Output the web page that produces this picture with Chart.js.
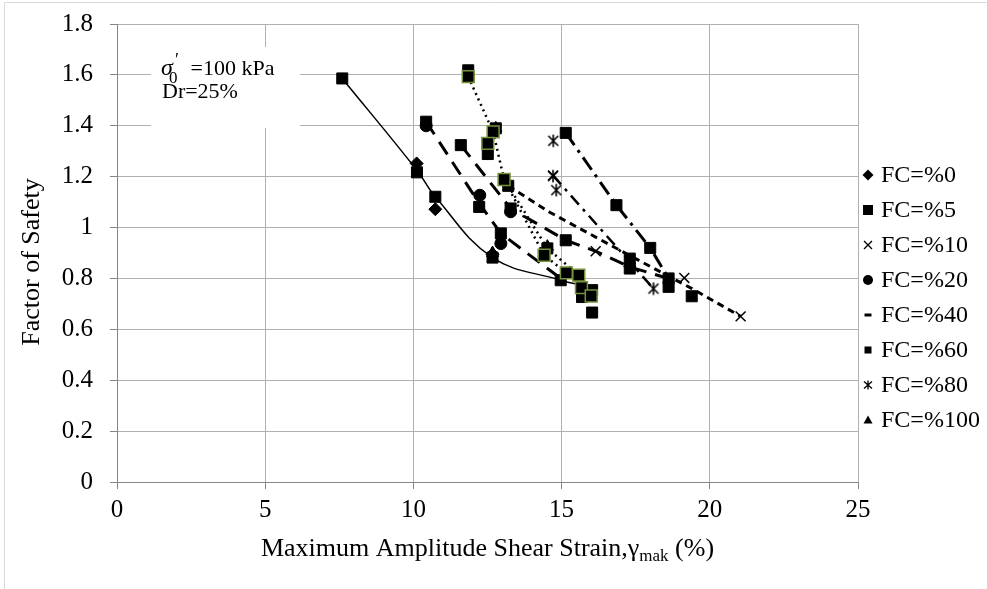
<!DOCTYPE html>
<html><head><meta charset="utf-8">
<script src="https://cdn.jsdelivr.net/npm/chart.js@4.4.0/dist/chart.umd.min.js"></script>
<style>html,body{margin:0;padding:0;background:#fff}</style>
</head><body>
<canvas id="c" width="987" height="589"></canvas>
<script>
// ─── DATA ────────────────────────────────────────────────────────────────────
const X_TICKS=[0,5,10,15,20,25];
const Y_TICKS=[0,0.2,0.4,0.6,0.8,1,1.2,1.4,1.6,1.8];
const Y_TICK_LABELS=['0','0.2','0.4','0.6','0.8','1','1.2','1.4','1.6','1.8'];
const LEGEND_LABELS=['FC=%0','FC=%5','FC=%10','FC=%20','FC=%40','FC=%60','FC=%80','FC=%100'];

// marker series (max shear strain %, factor of safety)
const FC0_X=[10.11,10.74,12.67];               const FC0_Y=[1.252,1.072,0.895];
const FC5_X=[7.6,10.12,10.74,12.67,14.97,10.43,11.6,12.22,13.28,12.95,15.14,15.14,16.85,17.99,17.3,17.3,18.61,18.61,19.39,15.69,16.03,16.03,12.51,13.2,11.85,12.78,14.52];
const FC5_Y=[1.586,1.217,1.121,0.882,0.793,1.416,1.324,1.081,1.075,0.977,1.372,0.95,1.088,0.92,0.878,0.839,0.80,0.767,0.73,0.727,0.754,0.666,1.289,1.164,1.618,1.39,0.918];
const FC10_X=[14.71,16.15,19.14,21.04];         const FC10_Y=[1.205,0.907,0.802,0.651];
const FC20_X=[10.43,12.24,12.95,13.28];         const FC20_Y=[1.40,1.127,0.937,1.062];
const FC40_X=[11.6,13.28,15.14,17.3];           const FC40_Y=[1.324,1.075,0.95,0.86];
const FC60_X=[11.85,12.69,12.51,13.06,14.41,15.16,15.58,15.67,16.0];
const FC60_Y=[1.593,1.376,1.331,1.189,0.891,0.822,0.813,0.764,0.731];
const FC80_X=[14.72,14.71,14.82,18.1];          const FC80_Y=[1.341,1.202,1.147,0.760];
const FC100_X=[12.67,12.78,14.52,17.3];         const FC100_Y=[0.9,1.39,0.925,0.86];

// connecting lines
const LINE_SOLID_X=[7.6,10.12,10.74,12.67,14.97,15.55];  const LINE_SOLID_Y=[1.586,1.225,1.121,0.882,0.793,0.776];
const LINE_LD1_X=[10.43,12.22,12.95,14.97];   const LINE_LD1_Y=[1.416,1.095,0.977,0.80];
const LINE_LD2_X=[11.6,13.28,15.14,16.15,17.3,18.61]; const LINE_LD2_Y=[1.324,1.075,0.95,0.907,0.845,0.80];
const LINE_SD_X=[13.2,14.6,17.3,19.4,21.04];  const LINE_SD_Y=[1.164,1.06,0.89,0.76,0.651];
const LINE_DOT1_X=[11.85,12.69,13.06,14.41,15.16]; const LINE_DOT1_Y=[1.593,1.376,1.189,0.891,0.822];
const LINE_DOT2_X=[13.2,14.52,15.58];         const LINE_DOT2_Y=[1.164,0.918,0.813];
const LINE_DD1_X=[15.14,16.85,17.99,18.61];   const LINE_DD1_Y=[1.372,1.088,0.92,0.80];
const LINE_DD2_X=[14.71,18.1];                const LINE_DD2_Y=[1.205,0.76];

// ─── MARKERS ─────────────────────────────────────────────────────────────────
const FONT='"Liberation Serif","Times New Roman",serif';
function markCanvas(kind,sz,lw){
  const c=document.createElement('canvas'); c.width=c.height=sz;
  const g=c.getContext('2d'); g.strokeStyle='#000'; g.fillStyle='#000'; g.lineWidth=lw;
  const h=sz/2, r=h-lw/2;
  if(kind==='star'){
    g.beginPath();
    g.moveTo(h,h-r); g.lineTo(h,h+r);
    g.moveTo(h-r*.8,h-r*.8); g.lineTo(h+r*.8,h+r*.8);
    g.moveTo(h+r*.8,h-r*.8); g.lineTo(h-r*.8,h+r*.8);
    g.stroke();
  } else if(kind==='dash'){
    g.fillRect(1,h-1.5,sz-2,3);
  }
  return c;
}
const STAR=markCanvas('star',14,1.6), DASH=markCanvas('dash',11,0);

const mk=(xs,ys)=>xs.map((x,i)=>({x,y:ys[i]}));
function markers(label,xs,ys,style,r,order,extra){
  return Object.assign({label,data:mk(xs,ys),showLine:false,pointStyle:style,pointRadius:r,pointHoverRadius:r,
    pointBackgroundColor:'#000',pointBorderColor:'#000',pointBorderWidth:1,order},extra||{});
}
function trace(xs,ys,dash,w,tension){
  return {label:'',data:mk(xs,ys),showLine:true,pointRadius:0,borderColor:'#000',borderWidth:w,
    borderDash:dash,tension:tension||0,order:10};
}

const datasets=[
  markers(LEGEND_LABELS[5],FC60_X,FC60_Y,'rect',8.4,1,{pointBorderColor:'#76923c',pointBorderWidth:1.5}),
  markers(LEGEND_LABELS[2],FC10_X,FC10_Y,'crossRot',7,2,{pointBorderWidth:1.5}),
  markers(LEGEND_LABELS[6],FC80_X,FC80_Y,STAR,7,2),
  markers(LEGEND_LABELS[1],FC5_X,FC5_Y,'rect',7.8,3),
  markers(LEGEND_LABELS[0],FC0_X,FC0_Y,'rectRot',6.5,4),
  markers(LEGEND_LABELS[3],FC20_X,FC20_Y,'circle',6,4),
  markers(LEGEND_LABELS[7],FC100_X,FC100_Y,'triangle',7,5),
  markers(LEGEND_LABELS[4],FC40_X,FC40_Y,DASH,6,6),
  trace(LINE_SOLID_X,LINE_SOLID_Y,[],1.5,0.4),
  trace(LINE_LD1_X,LINE_LD1_Y,[15,9],3),
  trace(LINE_LD2_X,LINE_LD2_Y,[15,9],3),
  trace(LINE_SD_X,LINE_SD_Y,[7,5],3),
  trace(LINE_DOT1_X,LINE_DOT1_Y,[2,4],2.5),
  trace(LINE_DOT2_X,LINE_DOT2_Y,[2,4],2.5),
  trace(LINE_DD1_X,LINE_DD1_Y,[15,6,3,6],3),
  trace(LINE_DD2_X,LINE_DD2_Y,[12,6,3,6],2.5)
];

// legend marks, drawn by hand so the box sits where Excel put it
const LEGEND_MARKS=['diamond','square','cross','circle','dash','smallsquare','star','triangle'];
function legendMark(g,kind,x,y){
  g.save(); g.fillStyle='#000'; g.strokeStyle='#000'; g.lineWidth=1.3; g.beginPath();
  if(kind==='diamond'){g.moveTo(x,y-5.5);g.lineTo(x+5.5,y);g.lineTo(x,y+5.5);g.lineTo(x-5.5,y);g.closePath();g.fill();}
  else if(kind==='square'){g.fillRect(x-5,y-5,10,10);}
  else if(kind==='smallsquare'){g.fillRect(x-3.5,y-3.5,7,7);}
  else if(kind==='cross'){g.moveTo(x-4,y-4);g.lineTo(x+4,y+4);g.moveTo(x+4,y-4);g.lineTo(x-4,y+4);g.stroke();}
  else if(kind==='circle'){g.arc(x,y,5,0,Math.PI*2);g.fill();}
  else if(kind==='dash'){g.fillRect(x-3.5,y-1.5,7,3);}
  else if(kind==='star'){g.moveTo(x,y-4.5);g.lineTo(x,y+4.5);g.moveTo(x-4,y-3.5);g.lineTo(x+4,y+3.5);g.moveTo(x+4,y-3.5);g.lineTo(x-4,y+3.5);g.stroke();}
  else if(kind==='triangle'){g.moveTo(x,y-4.5);g.lineTo(x+4.5,y+3.5);g.lineTo(x-4.5,y+3.5);g.closePath();g.fill();}
  g.restore();
}

const decor={
  id:'decor',
  beforeDatasetsDraw(chart){
    const g=chart.ctx;
    // text box over the grid
    g.save();
    g.fillStyle='#fff'; g.fillRect(151,47,149,81);
    g.fillStyle='#000'; g.textBaseline='alphabetic';
    g.font='italic 24px '+FONT; g.fillText('σ',161,75);
    g.font='18px '+FONT; g.fillText('′',175,66);
    g.font='17px '+FONT; g.fillText('0',169,83);
    g.font='22px '+FONT; g.fillText(' =100 kPa',185,75);
    g.fillText('Dr=25%',162,98);
    g.restore();
  },
  afterDraw(chart){
    const g=chart.ctx, a=chart.chartArea;
    g.save();
    // outer chart frame (left & top visible)
    g.strokeStyle='#d9d9d9'; g.lineWidth=1;
    g.beginPath(); g.moveTo(4.5,589); g.lineTo(4.5,2.5); g.lineTo(987,2.5); g.stroke();
    // axis titles
    g.fillStyle='#000';
    g.save(); g.translate(32,262); g.rotate(-Math.PI/2);
    g.font='26px '+FONT; g.textAlign='center'; g.textBaseline='middle'; g.fillText('Factor of Safety',0,0); g.restore();
    const t1='Maximum Amplitude Shear Strain,γ', t2='mak', t3=' (%)';
    g.font='26px '+FONT; const w1=g.measureText(t1).width, w3=g.measureText(t3).width;
    g.font='17px '+FONT; const w2=g.measureText(t2).width;
    let x=(a.left+a.right)/2-(w1+w2+w3)/2; const by=556;
    g.font='26px '+FONT; g.fillText(t1,x,by); x+=w1;
    g.font='17px '+FONT; g.fillText(t2,x,by+5); x+=w2;
    g.font='26px '+FONT; g.fillText(t3,x,by);
    // legend
    g.font='24px '+FONT; g.textBaseline='middle';
    LEGEND_LABELS.forEach((lab,i)=>{
      const y=175+35*i;
      legendMark(g,LEGEND_MARKS[i],868,y);
      g.fillText(lab,881,y+1);
    });
    g.restore();
  }
};

new Chart(document.getElementById('c'),{
  type:'scatter',
  data:{datasets},
  options:{
    responsive:false,animation:false,
    layout:{padding:{left:0,right:129,top:24,bottom:0}},
    plugins:{legend:{display:false},tooltip:{enabled:false}},
    scales:{
      x:{type:'linear',min:0,max:25,
        afterBuildTicks:s=>{s.ticks=X_TICKS.map(v=>({value:v}));},
        afterFit:s=>{s.height=107;s.paddingLeft=0;s.paddingRight=0;},
        grid:{color:'#b0b0b0',lineWidth:1,tickLength:7,tickColor:'#868686'},
        border:{color:'#868686',width:1},
        ticks:{color:'#000',font:{family:FONT,size:25},padding:6,maxRotation:0}},
      y:{type:'linear',min:0,max:1.8,
        afterBuildTicks:s=>{s.ticks=Y_TICKS.map(v=>({value:v}));},
        afterFit:s=>{s.width=117;s.paddingTop=0;s.paddingBottom=0;},
        grid:{color:'#b0b0b0',lineWidth:1,tickLength:7,tickColor:'#868686'},
        border:{color:'#868686',width:1},
        ticks:{color:'#000',font:{family:FONT,size:25},padding:17,callback:(v,i)=>Y_TICK_LABELS[i]}}
    }
  },
  plugins:[decor]
});
</script>
</body></html>
